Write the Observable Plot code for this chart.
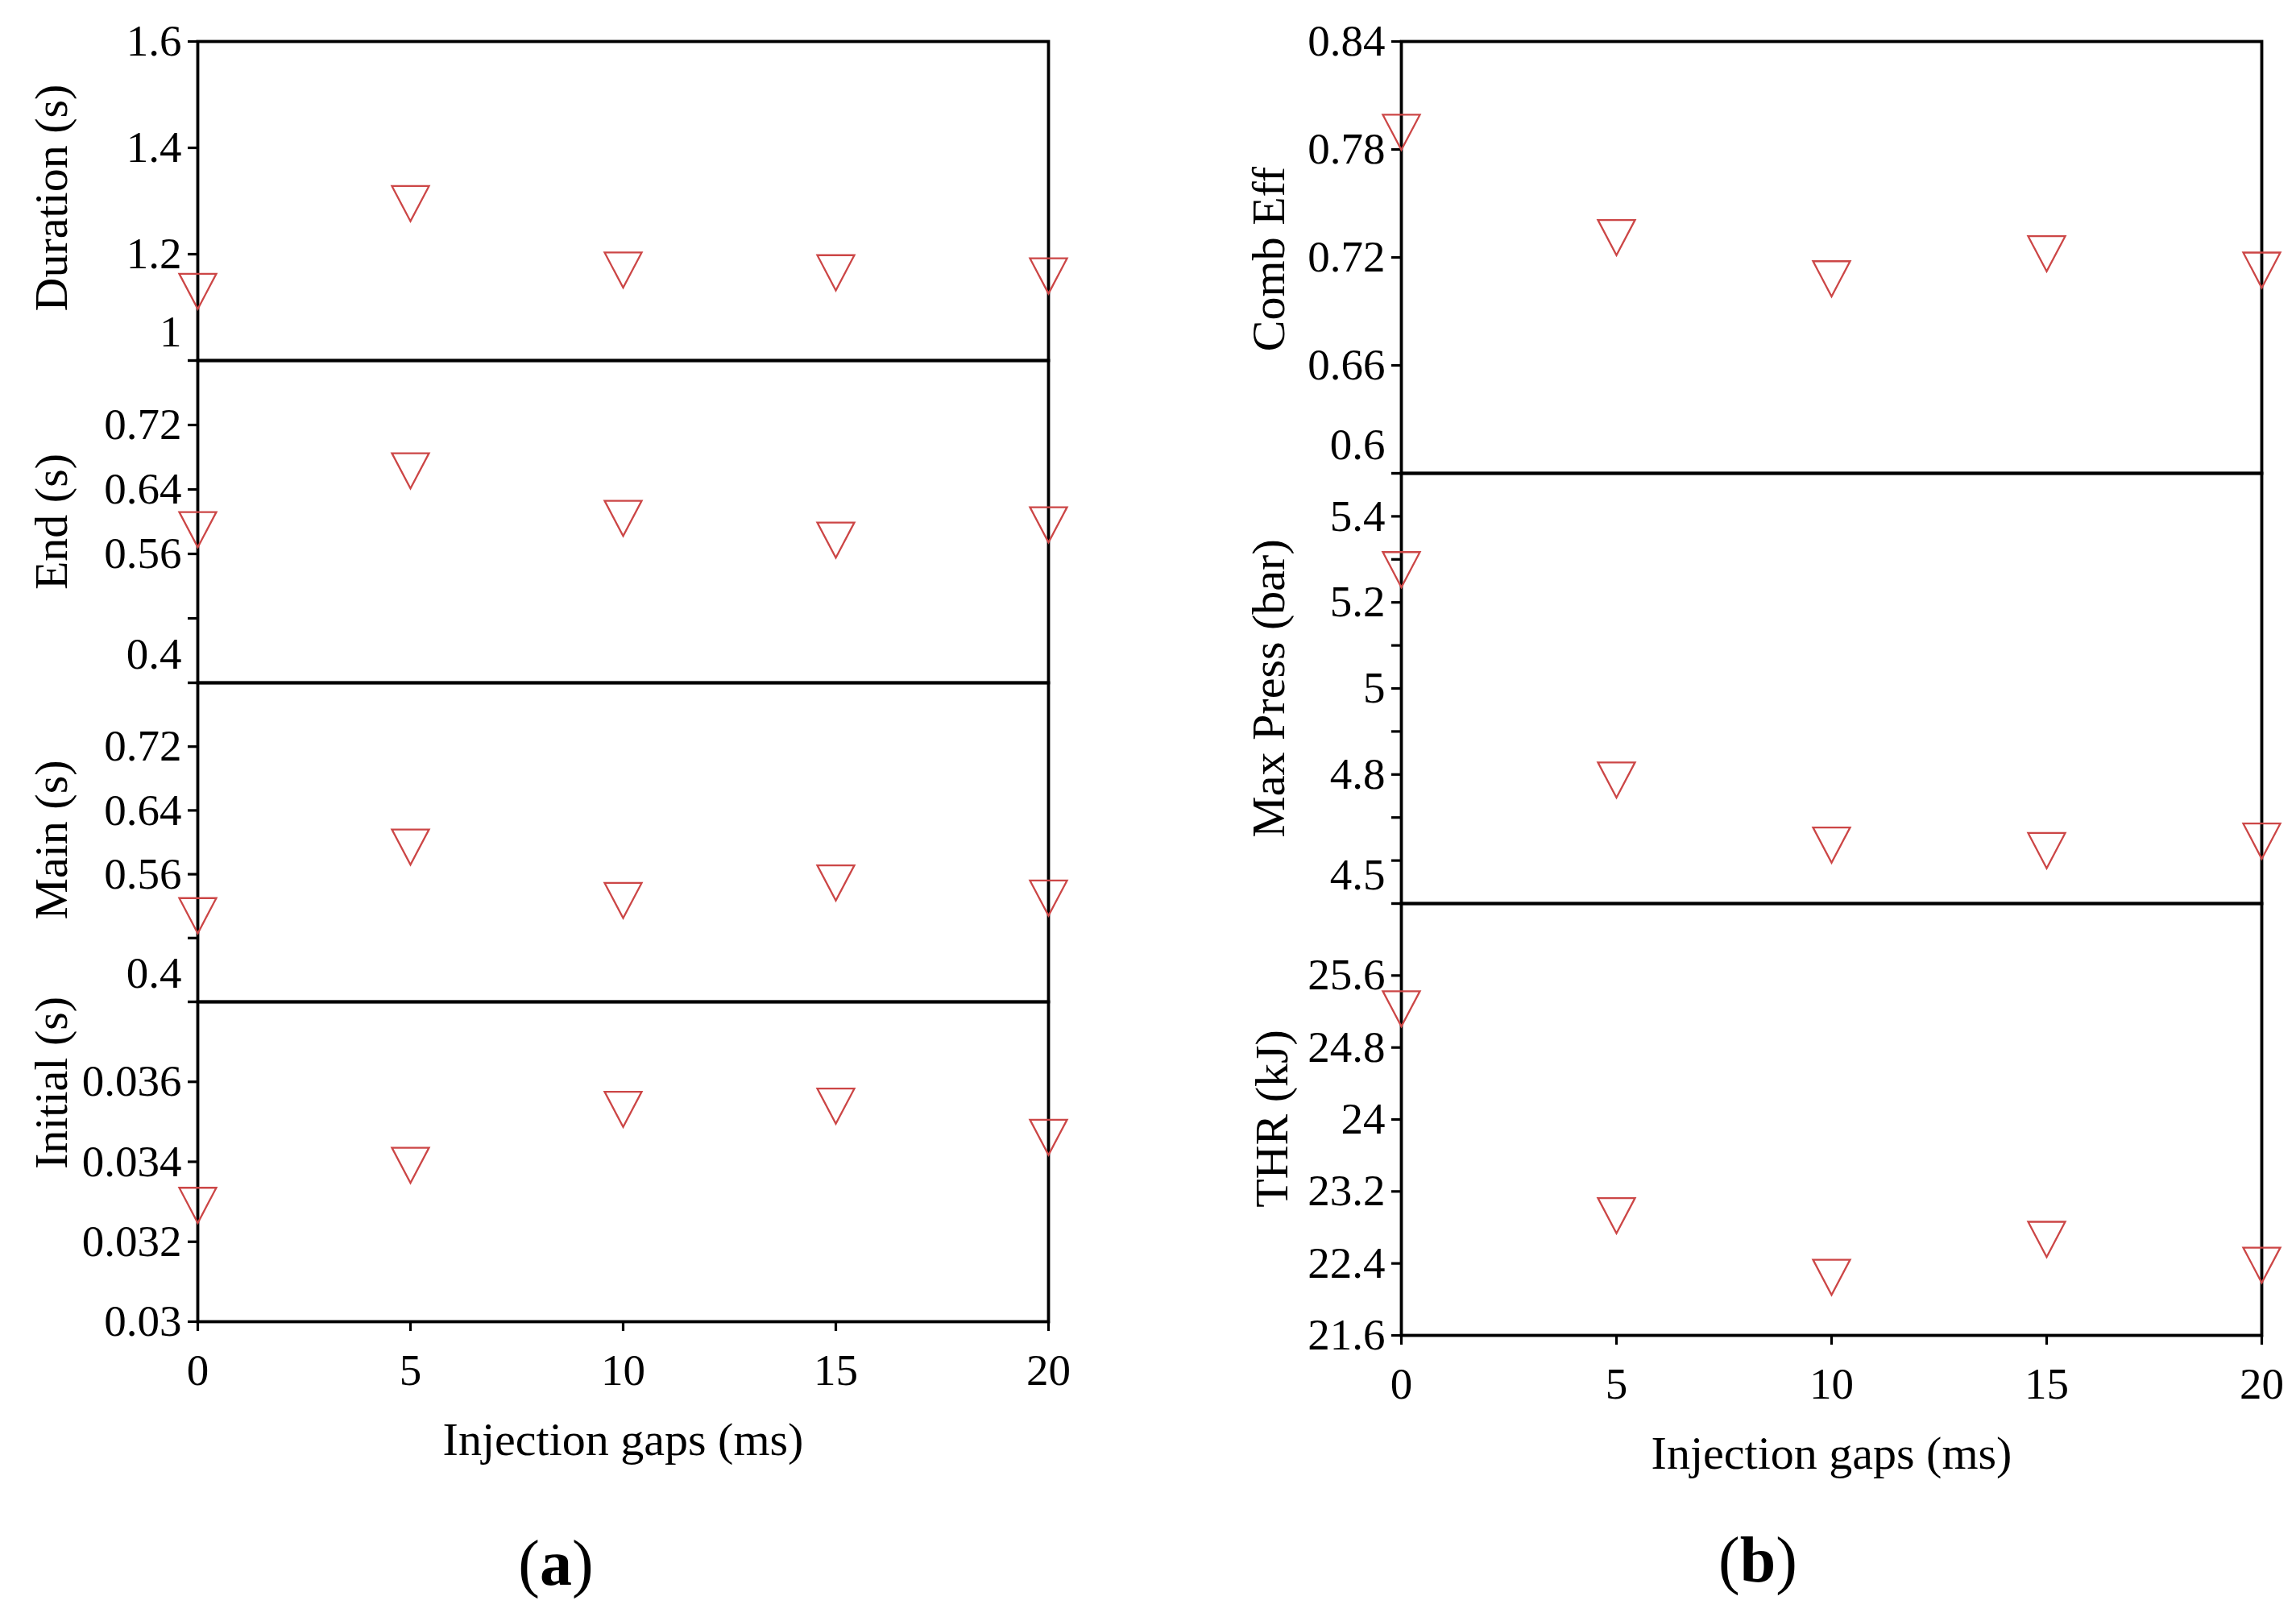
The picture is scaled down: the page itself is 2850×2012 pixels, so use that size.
<!DOCTYPE html>
<html><head><meta charset="utf-8">
<script src="https://cdn.jsdelivr.net/npm/d3@7"></script>
<script src="https://cdn.jsdelivr.net/npm/@observablehq/plot@0.6"></script>
<style>
body{margin:0;background:#fff;}
#fig{position:relative;width:2850px;height:2012px;background:#fff;font-family:"Liberation Serif",serif;color:#000;overflow:hidden;}
.panel{position:absolute;}
.cap{position:absolute;font-size:80px;transform:translate(-50%,-50%);white-space:nowrap;line-height:1;}
</style></head><body><div id="fig"></div>
<script>
// ---- data ----
const gaps = [0, 5, 10, 15, 20];
const duration = [1.130, 1.295, 1.170, 1.165, 1.159];
const endT = [0.590, 0.663, 0.604, 0.577, 0.596];
const mainT = [0.508, 0.594, 0.527, 0.549, 0.530];
const initialT = [0.03291, 0.03391, 0.03531, 0.03539, 0.03461];
const combEff = [0.7895, 0.7310, 0.7081, 0.7220, 0.7129];
const maxPress = [5.276, 4.787, 4.636, 4.623, 4.645];
const thr = [25.23, 22.93, 22.245, 22.667, 22.38];

// ticks and labels
const xTicks = [0, 5, 10, 15, 20];
const durationTicks = [1, 1.2, 1.4, 1.6];
const durationLabels = ["", "1.2", "1.4", "1.6"];
const sTicks = [0.4, 0.48, 0.56, 0.64, 0.72, 0.8];
const sLabels = ["", "", "0.56", "0.64", "0.72", ""];
const initialTicks = [0.03, 0.032, 0.034, 0.036, 0.038];
const initialLabels = ["0.03", "0.032", "0.034", "0.036", ""];
const combTicks = [0.6, 0.66, 0.72, 0.78, 0.84];
const combLabels = ["", "0.66", "0.72", "0.78", "0.84"];
const pressTicks = [4.5, 4.6, 4.7, 4.8, 4.9, 5.0, 5.1, 5.2, 5.3, 5.4, 5.5];
const pressLabels = ["", "", "", "4.8", "", "5", "", "5.2", "", "5.4", ""];
const thrTicks = [21.6, 22.4, 23.2, 24, 24.8, 25.6, 26.4];
const thrLabels = ["21.6", "22.4", "23.2", "24", "24.8", "25.6", ""];

const xTitle = "Injection gaps (ms)";

// ---- layout ----
const fig = document.getElementById("fig");
const FONT = "Liberation Serif";
const markerColor = "#cc4646";

const invTri = {
  draw(ctx, size) {
    const r = Math.sqrt(size / Math.PI);
    ctx.moveTo(-r, -0.95 * r);
    ctx.lineTo(r, -0.95 * r);
    ctx.lineTo(0, 0.95 * r);
    ctx.closePath();
  }
};

const cols = {
  a: {colLeft: 0, frameLeft: 245, frameRight: 1301},
  b: {colLeft: 1425, frameLeft: 1739, frameRight: 2807}
};

const panels = [
  {col: "a", top: 51, bottom: 447, values: duration, domain: [1, 1.6], ticks: durationTicks, labels: durationLabels, edge: [1, "1"], title: "Duration (s)", tdx: -181, tdy: -4},
  {col: "a", top: 447, bottom: 847, values: endT, domain: [0.4, 0.8], ticks: sTicks, labels: sLabels, edge: [0.4, "0.4"], title: "End (s)", tdx: -181, tdy: 0},
  {col: "a", top: 847, bottom: 1243, values: mainT, domain: [0.4, 0.8], ticks: sTicks, labels: sLabels, edge: [0.4, "0.4"], title: "Main (s)", tdx: -181, tdy: -3},
  {col: "a", top: 1243, bottom: 1640, values: initialT, domain: [0.03, 0.038], ticks: initialTicks, labels: initialLabels, edge: null, title: "Initial (s)", tdx: -181, tdy: -98, xaxis: true},
  {col: "b", top: 51, bottom: 587, values: combEff, domain: [0.6, 0.84], ticks: combTicks, labels: combLabels, edge: [0.6, "0.6"], title: "Comb Eff", tdx: -164, tdy: 2},
  {col: "b", top: 587, bottom: 1121, values: maxPress, domain: [4.5, 5.5], ticks: pressTicks, labels: pressLabels, edge: [4.5, "4.5"], title: "Max Press (bar)", tdx: -164, tdy: 0},
  {col: "b", top: 1121, bottom: 1657, values: thr, domain: [21.6, 26.4], ticks: thrTicks, labels: thrLabels, edge: null, title: "THR (kJ)", tdx: -160, tdy: -1, xaxis: true}
];

for (const p of panels) {
  const c = cols[p.col];
  const mt = 40, mb = p.xaxis ? 240 : 40, mr = 60;
  const ml = c.frameLeft - c.colLeft;
  const width = c.frameRight - c.colLeft + mr;
  const height = p.bottom - p.top + mt + mb;
  const data = gaps.map((g, i) => ({gap: g, v: p.values[i]}));
  const labelOf = new Map(p.ticks.map((t, i) => [t, p.labels[i]]));
  const marks = [
    Plot.frame({stroke: "#000", strokeWidth: 3.8}),
    Plot.axisY({ticks: p.ticks, tickFormat: d => labelOf.get(d), tickSize: 12, tickPadding: 8, strokeWidth: 3.2, fontSize: 55, label: null}),
    Plot.dot(data, {x: "gap", y: "v", symbol: invTri, r: 23, stroke: markerColor, strokeWidth: 2.3, fill: "none"}),
    Plot.text([p.title], {text: d => d, frameAnchor: "left", textAnchor: "middle", lineAnchor: "middle", dx: p.tdx, dy: p.tdy, rotate: -90, fontSize: 58})
  ];
  if (p.edge) {
    marks.push(Plot.axisY({ticks: [p.edge[0]], tickFormat: () => p.edge[1], tickSize: 0, tickPadding: 20, fontSize: 55, dy: -35, label: null}));
  }
  if (p.xaxis) {
    marks.push(Plot.axisX({ticks: xTicks, tickSize: 12, tickPadding: 27, strokeWidth: 3.2, fontSize: 55, label: null}));
    marks.push(Plot.text([xTitle], {text: d => d, frameAnchor: "bottom", lineAnchor: "middle", dy: 147, fontSize: 58}));
  }
  const chart = Plot.plot({
    width, height,
    marginLeft: ml, marginRight: mr, marginTop: mt, marginBottom: mb,
    x: {domain: [0, 20], axis: null},
    y: {domain: p.domain, axis: null},
    style: {overflow: "visible", background: "transparent", fontFamily: FONT, color: "#000", maxWidth: "none"},
    marks
  });
  chart.classList.add("panel");
  chart.style.left = c.colLeft + "px";
  chart.style.top = (p.top - mt) + "px";
  fig.appendChild(chart);
}

// captions
const capA = document.createElement("div");
capA.className = "cap";
capA.style.left = "690px"; capA.style.top = "1940px";
capA.innerHTML = "(<b>a</b>)";
fig.appendChild(capA);
const capB = document.createElement("div");
capB.className = "cap";
capB.style.left = "2182px"; capB.style.top = "1936px";
capB.innerHTML = "(<b>b</b>)";
fig.appendChild(capB);
</script>
</body></html>
